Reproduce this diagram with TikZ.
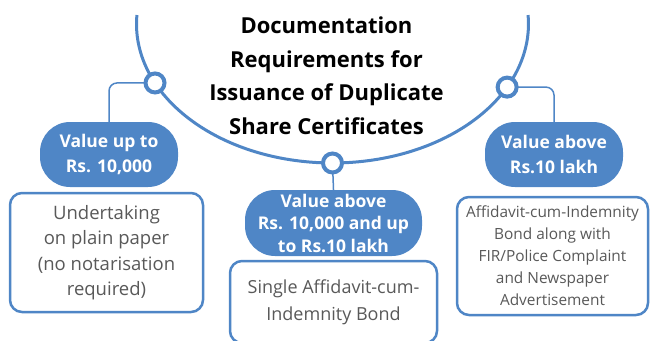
\documentclass[tikz,border=0pt]{standalone}
\usepackage{fontspec}
\setmainfont{Open Sans}
\usetikzlibrary{positioning,calc}

\definecolor{docblue}{HTML}{4F86C6}
\definecolor{docgray}{HTML}{595959}

\tikzset{
  pill/.style={fill=docblue, text=white, align=center, rounded corners=30pt, inner sep=0pt},
  docbox/.style={draw=docblue, line width=2.5pt, rounded corners=12pt, fill=white, text=docgray, align=center, inner sep=0pt},
  link/.style={docblue, line width=1.5pt, rounded corners=8pt},
  knot/.style={circle, draw=docblue, line width=4pt, fill=white, minimum size=19pt, inner sep=0pt}
}

\begin{document}
\begin{tikzpicture}[x=1pt,y=-1pt]

\useasboundingbox (0,0) rectangle (653,340);
\clip (0,0) rectangle (653,340);

\coordinate (ctr) at (332.5,24);
\coordinate (arcstart) at ([shift={(176.3:196pt and 139pt)}]ctr);
\coordinate (kl) at ([shift={(205.1:196pt and 139pt)}]ctr);
\coordinate (kb) at ([shift={(270:196pt and 139pt)}]ctr);
\coordinate (kr) at ([shift={(333:196pt and 139pt)}]ctr);

    \begin{scope} % Main arc
        \draw[docblue, line width=3pt] (arcstart) arc[start angle=176.3, end angle=363.7, x radius=196pt, y radius=139pt];
    \end{scope}

\node[font=\fontsize{22}{33.5}\selectfont\bfseries, align=center] (title) at (326.5,75.5) {Documentation\\Requirements for\\Issuance of Duplicate\\Share Certificates};

    \begin{scope} % Value ranges
        \node[pill, minimum width=138pt, minimum height=65pt, font=\fontsize{17.5}{25}\selectfont\bfseries] (vlow) at (109,154.5) {Value up to\\Rs. 10,000};
        \node[pill, minimum width=177pt, minimum height=66pt, font=\fontsize{17.5}{22.5}\selectfont\bfseries] (vmid) at (333.5,223) {Value above\\Rs. 10,000 and up\\to Rs.10 lakh};
        \node[pill, minimum width=138pt, minimum height=65pt, font=\fontsize{17.5}{25}\selectfont\bfseries] (vhigh) at (554,154.5) {Value above\\Rs.10 lakh};
    \end{scope}

    \begin{scope} % Documents
        \node[docbox, minimum width=193pt, minimum height=119pt, font=\fontsize{18.5}{25.5}\selectfont] (plain) at (106.5,252.5) {Undertaking\\on plain paper\\(no notarisation\\required)};
        \node[docbox, minimum width=207pt, minimum height=82pt, font=\fontsize{18}{27}\selectfont] (single) at (333.5,302) {Single Affidavit-cum-\\Indemnity Bond};
        \node[docbox, minimum width=191pt, minimum height=118pt, font=\fontsize{15.4}{22}\selectfont] (bond) at (552.5,256) {Affidavit-cum-Indemnity\\Bond along with\\FIR/Police Complaint\\and Newspaper\\Advertisement};
    \end{scope}

    \begin{scope} % Links
        \draw[link] (kl) -| (vlow.north);
        \draw[link] (kb) -- (vmid.north);
        \draw[link] (kr) -| (vhigh.north);
    \end{scope}

\node[knot] (knotl) at (kl) {};
\node[knot] (knotb) at (kb) {};
\node[knot] (knotr) at (kr) {};

\end{tikzpicture}
\end{document}
